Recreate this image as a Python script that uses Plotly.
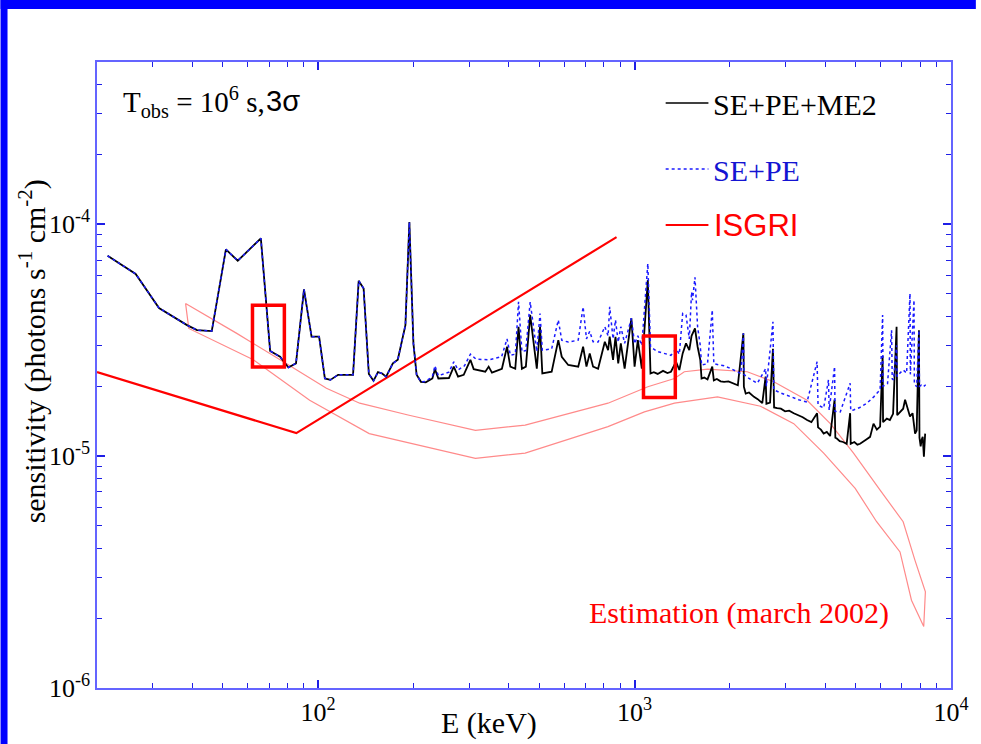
import plotly.graph_objects as go

# ---------------- data ----------------
# Combined SE+PE+ME2 sensitivity (black)
E_me2 = [21.6, 26.5, 31.4, 38.5, 41.4, 46.1, 51.1, 55.7, 65.9, 70.5, 75.8, 80.5, 85.1, 90.2, 95.3,
         100.7, 105, 109.3, 115.6, 128.9, 134.3, 139.2, 144.6, 149.6, 154.5, 159.3, 164, 172.2, 178.5,
         188.7, 194.2, 200, 204.7, 211.2,
         218.8, 229.6, 233.9, 239.8, 259, 268.3, 276.8, 288.4, 302.8, 310.1, 337.5, 345.8, 354.2,
         380.8, 395.2, 404.8, 419.7, 429.8, 440.5, 453.3, 467.8, 478.9, 490.9, 502.6, 511, 547,
         574, 588.6, 617, 663.6, 687.6, 704.6, 721.5, 739.3, 766.8, 805.4, 824.6, 834.3, 855,
         870.3, 887.8, 904.6, 930.2, 977, 1000, 1024, 1054, 1101, 1123, 1150, 1183, 1230, 1270, 1303,
         1352, 1385, 1419, 1454, 1489, 1514, 1552, 1582, 1613, 1628, 1660, 1700, 1760, 1780, 1820,
         1870, 1918, 1980, 2063, 2120, 2207, 2215, 2245, 2300, 2384, 2450, 2533, 2595, 2610, 2680,
         2737, 2760, 2822, 2900, 2990, 3080, 3185, 3300, 3400, 3508, 3620, 3774, 3800, 3880, 3959,
         4050, 4150, 4286, 4310, 4357, 4450, 4560, 4680, 4800, 4820, 4950, 5060, 5160, 5280, 5400,
         5550, 5690, 5830, 5970, 6080, 6100, 6270, 6410, 6560, 6730, 6760, 6900, 7060, 7160, 7300,
         7420, 7560, 7700, 7790, 7920, 7950, 8020, 8080, 8140, 8210, 8285]
S_me2 = [7.3e-5, 6.1e-5, 4.35e-5, 3.67e-5, 3.49e-5, 3.46e-5, 7.78e-5, 6.95e-5, 8.68e-5, 2.84e-5,
         2.68e-5, 2.41e-5, 2.51e-5, 5.23e-5, 3.27e-5, 3.27e-5, 2.16e-5, 2.13e-5, 2.24e-5, 2.24e-5,
         5.7e-5, 5.28e-5, 2.26e-5, 2.11e-5, 2.3e-5, 2.27e-5, 2.2e-5, 2.51e-5, 2.6e-5, 3.67e-5,
         1.02e-4, 3.06e-5, 2.24e-5, 2.09e-5,
         2.08e-5, 2.16e-5, 2.37e-5, 2.16e-5, 2.17e-5, 2.43e-5, 2.2e-5, 2.24e-5, 2.6e-5, 2.37e-5,
         2.31e-5, 2.43e-5, 2.29e-5, 2.38e-5, 2.96e-5, 2.43e-5, 2.38e-5, 3.61e-5, 2.38e-5, 2.43e-5,
         4.06e-5, 3.16e-5, 2.38e-5, 3.61e-5, 2.27e-5, 2.31e-5, 3.16e-5, 2.68e-5, 2.47e-5, 2.43e-5,
         2.96e-5, 2.43e-5, 2.77e-5, 2.43e-5, 2.38e-5, 3.11e-5, 2.86e-5, 3.27e-5, 2.6e-5, 3.27e-5,
         2.51e-5, 3.06e-5, 2.38e-5, 3.93e-5, 2.43e-5, 3.16e-5, 2.38e-5, 5.74e-5, 2.27e-5, 2.3e-5,
         2.26e-5, 2.33e-5, 2.28e-5, 2.31e-5, 2.55e-5, 2.35e-5, 2.77e-5, 3.06e-5, 2.86e-5, 3.3e-5,
         3.55e-5, 2.96e-5, 2.6e-5, 2.16e-5, 2.18e-5, 2.14e-5, 2.43e-5, 2.12e-5, 2.15e-5, 2.1e-5,
         2.09e-5, 2.1e-5, 2.06e-5, 2.02e-5, 3.38e-5, 1.99e-5, 1.86e-5, 1.88e-5, 1.8e-5, 1.76e-5,
         1.69e-5, 2.2e-5, 1.68e-5, 1.7e-5, 2.9e-5, 1.62e-5, 1.61e-5, 1.6e-5, 1.56e-5, 1.57e-5,
         1.53e-5, 1.5e-5, 1.47e-5, 1.43e-5, 1.4e-5, 1.53e-5, 1.33e-5, 1.3e-5, 1.25e-5, 1.27e-5,
         1.22e-5, 1.75e-5, 1.2e-5, 1.19e-5, 1.16e-5, 1.15e-5, 1.13e-5, 1.53e-5, 1.13e-5, 1.15e-5,
         1.12e-5, 1.13e-5, 1.16e-5, 1.18e-5, 1.21e-5, 1.38e-5, 1.3e-5, 1.34e-5, 2.7e-5, 1.4e-5,
         1.45e-5, 1.43e-5, 1.52e-5, 3.61e-5, 1.5e-5, 1.55e-5, 1.6e-5, 1.75e-5, 1.58e-5, 1.48e-5,
         1.53e-5, 1.25e-5, 1.29e-5, 3.49e-5, 1.2e-5, 1.1e-5, 1.18e-5, 1.21e-5, 9.93e-6, 1.25e-5]

# SE+PE sensitivity (blue dotted)
E_sepe = [21.6, 26.5, 31.4, 38.5, 41.4, 46.1, 51.1, 55.7, 65.9, 70.5, 75.8, 80.5, 85.1, 90.2, 95.3,
          100.7, 105, 109.3, 115.6, 128.9, 134.3, 139.2, 144.6, 149.6, 154.5, 159.3, 164, 172.2, 178.5,
          188.7, 194.2, 200, 204.7, 211.2,
          218.8, 229.6, 233.9, 239.8, 259, 268.3, 276.8, 290, 302.8, 315, 345.8, 380, 395.2, 405,
          420, 429.8, 440.5, 453, 467.8, 478.9, 490.9, 502.6, 511, 547, 574, 588.6, 617, 663.6,
          687.6, 704.6, 721.5, 739.3, 766.8, 805.4, 824.6, 834.3, 855, 870.3, 887.8, 904.6, 930.2,
          977, 1000, 1024, 1054, 1101, 1123, 1183, 1240, 1303, 1352, 1385, 1419, 1454, 1489, 1514,
          1524, 1552, 1582, 1613, 1628, 1700, 1760, 1780, 1850, 1918, 1990, 2063, 2167, 2207, 2215,
          2300, 2444, 2595, 2610, 2737, 2754, 2900, 3110, 3300, 3508, 3774, 3800, 3959, 4100, 4120,
          4286, 4300, 4467, 4800, 4820, 4920, 5150, 5420, 5700, 5970, 6080, 6100, 6300, 6490, 6520,
          6580, 6730, 6760, 6900, 7060, 7240, 7420, 7440, 7640, 7660, 7790, 7920, 7950, 8060,
          8170, 8320]
S_sepe = [7.3e-5, 6.1e-5, 4.35e-5, 3.67e-5, 3.49e-5, 3.46e-5, 7.78e-5, 6.95e-5, 8.68e-5, 2.84e-5,
          2.68e-5, 2.41e-5, 2.51e-5, 5.23e-5, 3.27e-5, 3.27e-5, 2.16e-5, 2.13e-5, 2.24e-5, 2.24e-5,
          5.7e-5, 5.28e-5, 2.26e-5, 2.11e-5, 2.3e-5, 2.27e-5, 2.2e-5, 2.51e-5, 2.6e-5, 3.67e-5,
          1.02e-4, 3.06e-5, 2.24e-5, 2.09e-5,
          2.1e-5, 2.2e-5, 2.45e-5, 2.22e-5, 2.3e-5, 2.55e-5, 2.35e-5, 2.45e-5, 2.75e-5, 2.62e-5,
          2.6e-5, 2.68e-5, 3.2e-5, 2.72e-5, 2.75e-5, 4.62e-5, 2.82e-5, 2.85e-5, 4.62e-5, 3.6e-5,
          2.82e-5, 4.12e-5, 2.86e-5, 2.9e-5, 3.86e-5, 3.16e-5, 3.1e-5, 3.16e-5, 4.4e-5, 3.2e-5,
          3.45e-5, 3.11e-5, 3.1e-5, 3.61e-5, 3.3e-5, 4.4e-5, 3.2e-5, 3.86e-5, 3.1e-5, 3.61e-5,
          3.06e-5, 3.93e-5, 3.05e-5, 3.3e-5, 3.0e-5, 6.76e-5, 2.95e-5, 2.82e-5, 2.78e-5, 2.72e-5,
          2.9e-5, 2.75e-5, 4.12e-5, 4.06e-5, 3.2e-5, 5.1e-5, 4.7e-5, 5.9e-5, 3.6e-5, 3.0e-5, 2.47e-5,
          2.5e-5, 4.26e-5, 2.5e-5, 2.47e-5, 2.45e-5, 2.4e-5, 2.35e-5, 2.27e-5, 3.38e-5, 2.25e-5,
          2.16e-5, 2.06e-5, 2.38e-5, 2.0e-5, 3.79e-5, 1.93e-5, 1.87e-5, 1.8e-5, 1.75e-5, 1.71e-5,
          2.55e-5, 1.66e-5, 1.61e-5, 2.13e-5, 1.58e-5, 2.43e-5, 1.56e-5, 1.55e-5, 2.06e-5, 1.57e-5,
          1.58e-5, 1.62e-5, 1.69e-5, 1.8e-5, 1.93e-5, 4.06e-5, 2.0e-5, 2.05e-5, 3.49e-5, 2.15e-5,
          2.13e-5, 3.0e-5, 2.2e-5, 2.28e-5, 2.35e-5, 2.28e-5, 5.02e-5, 2.25e-5, 4.7e-5, 2.05e-5,
          1.99e-5, 3.49e-5, 2.0e-5, 2.02e-5, 1.99e-5, 2.03e-5]

# ISGRI sensitivity (red)
E_isgri = [20, 85.3, 877]
S_isgri = [2.3e-5, 1.256e-5, 8.79e-5]

# Estimation (march 2002) envelope: upper edge then lower edge back
E_est_upper = [38.1, 55.3, 75.8, 106.2, 135.3, 193.8, 314, 451, 824, 1101, 1337, 1436, 1702,
               2270, 2754, 3508, 4155, 4920, 5970, 7060, 7690, 8300]
S_est_upper = [4.55e-5, 3.38e-5, 2.6e-5, 1.96e-5, 1.69e-5, 1.5e-5, 1.29e-5, 1.36e-5, 1.69e-5,
               1.99e-5, 2.16e-5, 2.31e-5, 2.37e-5, 2.31e-5, 2.09e-5, 1.74e-5, 1.38e-5, 1.03e-5,
               7.13e-6, 5.21e-6, 3.56e-6, 2.6e-6]
E_est_lower = [39.0, 62.4, 94, 145, 314, 451, 824, 1074, 1337, 1828, 2500, 3185, 3959, 4980,
               5820, 6900, 7500, 8200]
S_est_lower = [3.55e-5, 2.6e-5, 1.74e-5, 1.25e-5, 9.77e-6, 1.03e-5, 1.34e-5, 1.55e-5, 1.69e-5,
               1.8e-5, 1.64e-5, 1.38e-5, 1.03e-5, 7.26e-6, 5.21e-6, 3.86e-6, 2.39e-6, 1.84e-6]

# highlighted regions (red boxes): [E0, E1, S0, S1]
box_low = [62.0, 78.2, 2.42e-5, 4.47e-5]
box_mid = [1067, 1345, 1.79e-5, 3.29e-5]

x_major = [100, 1000, 10000]
x_major_text = ["10<sup>2</sup>", "10<sup>3</sup>", "10<sup>4</sup>"]
y_major = [1e-6, 1e-5, 1e-4]
y_major_text = ["10<sup>-6</sup>", "10<sup>-5</sup>", "10<sup>-4</sup>"]
x_minor = [30, 40, 50, 60, 70, 80, 90, 200, 300, 400, 500, 600, 700, 800, 900,
           2000, 3000, 4000, 5000, 6000, 7000, 8000, 9000]
y_minor = [2e-6, 3e-6, 4e-6, 5e-6, 6e-6, 7e-6, 8e-6, 9e-6, 2e-5, 3e-5, 4e-5, 5e-5, 6e-5, 7e-5,
           8e-5, 9e-5, 2e-4, 3e-4, 4e-4]

# ---------------- geometry ----------------
W, H = 981, 744
L, R, T, B = 97, 25, 62, 56
PW, PH = W - L - R, H - T - B

def px(x):
    return (x - L) / PW

def py(y):
    return (H - B - y) / PH

SERIF = "Liberation Serif"
SANS = "Liberation Sans"

fig = go.Figure()

# estimation envelope
fig.add_trace(go.Scatter(x=E_est_upper + E_est_lower[::-1] + [E_est_upper[0]],
                         y=S_est_upper + S_est_lower[::-1] + [S_est_upper[0]],
                         mode="lines", line=dict(color="#ff8a8a", width=1.2),
                         hoverinfo="skip", showlegend=False))
# ISGRI
fig.add_trace(go.Scatter(x=E_isgri, y=S_isgri, mode="lines",
                         line=dict(color="#ff0000", width=2.2), showlegend=False))
# SE+PE+ME2
fig.add_trace(go.Scatter(x=E_me2, y=S_me2, mode="lines",
                         line=dict(color="#000000", width=1.8), showlegend=False))
# SE+PE
fig.add_trace(go.Scatter(x=E_sepe, y=S_sepe, mode="lines",
                         line=dict(color="#1a1aff", width=1.5, dash="dot"), showlegend=False))

shapes = []
for bx in (box_low, box_mid):
    shapes.append(dict(type="rect", xref="x", yref="y", x0=bx[0], x1=bx[1], y0=bx[2], y1=bx[3],
                       line=dict(color="#ff0000", width=3.5), fillcolor="rgba(0,0,0,0)"))

# slide border (blue bars)
shapes.append(dict(type="rect", xref="paper", yref="paper", x0=px(0), x1=px(W), y0=py(9), y1=py(0),
                   line=dict(width=0), fillcolor="#0000ff", layer="below"))
shapes.append(dict(type="rect", xref="paper", yref="paper", x0=px(0), x1=px(7), y0=py(H), y1=py(0),
                   line=dict(width=0), fillcolor="#0000ff", layer="below"))

# legend sample lines
shapes.append(dict(type="line", xref="paper", yref="paper", x0=px(669), x1=px(712), y0=py(103), y1=py(103),
                   line=dict(color="#000000", width=1.5)))
shapes.append(dict(type="line", xref="paper", yref="paper", x0=px(669), x1=px(712), y0=py(169), y1=py(169),
                   line=dict(color="#1a1aff", width=1.5, dash="dot")))
shapes.append(dict(type="line", xref="paper", yref="paper", x0=px(669), x1=px(712), y0=py(225), y1=py(225),
                   line=dict(color="#ff0000", width=1.8)))

annotations = [
    dict(text="T<sub>obs</sub> = 10<sup>6</sup> s,", x=px(121), y=py(102), xanchor="left", yanchor="middle",
         font=dict(family=SERIF, size=29, color="black")),
    dict(text="3σ", x=px(265), y=py(101), xanchor="left", yanchor="middle",
         font=dict(family=SANS, size=29, color="black")),
    dict(text="SE+PE+ME2", x=px(715), y=py(104), xanchor="left", yanchor="middle",
         font=dict(family=SERIF, size=30, color="black")),
    dict(text="SE+PE", x=px(715), y=py(170), xanchor="left", yanchor="middle",
         font=dict(family=SERIF, size=30, color="#1414d2")),
    dict(text="ISGRI", x=px(716), y=py(226), xanchor="left", yanchor="middle",
         font=dict(family=SANS, size=31, color="#ff0000")),
    dict(text="Estimation (march 2002)", x=px(590), y=py(613), xanchor="left", yanchor="middle",
         font=dict(family=SERIF, size=30, color="#ff0000")),
    dict(text="E (keV)", x=px(491), y=py(742), xanchor="center", yanchor="bottom",
         font=dict(family=SERIF, size=30, color="black")),
    dict(text="sensitivity (photons s<sup>-1</sup> cm<sup>-2</sup>)", x=px(33), y=py(351),
         xanchor="center", yanchor="middle", textangle=-90,
         font=dict(family=SERIF, size=30, color="black")),
]
for a in annotations:
    a.update(xref="paper", yref="paper", showarrow=False)

axis_common = dict(showline=True, linecolor="#6464ff", linewidth=1.5, mirror="ticks",
                   ticks="inside", ticklen=8, tickwidth=1.5, tickcolor="#1e1ee6",
                   showgrid=False, zeroline=False,
                   tickfont=dict(family=SERIF, size=26, color="black"))

fig.update_layout(
    width=W, height=H,
    margin=dict(l=L, r=R, t=T, b=B),
    paper_bgcolor="white", plot_bgcolor="white",
    showlegend=False,
    xaxis=dict(type="log", range=[1.30103, 4.0], tickmode="array", tickvals=x_major,
               ticktext=x_major_text,
               minor=dict(ticks="inside", ticklen=5, tickwidth=1.2, tickcolor="#1e1ee6",
                          tickmode="array", tickvals=x_minor, showgrid=False),
               **axis_common),
    yaxis=dict(type="log", range=[-6.0, -3.30103], tickmode="array", tickvals=y_major,
               ticktext=y_major_text,
               minor=dict(ticks="inside", ticklen=5, tickwidth=1.2, tickcolor="#1e1ee6",
                          tickmode="array", tickvals=y_minor, showgrid=False),
               **axis_common),
    shapes=shapes,
    annotations=annotations,
)

fig.write_html("out.html")
